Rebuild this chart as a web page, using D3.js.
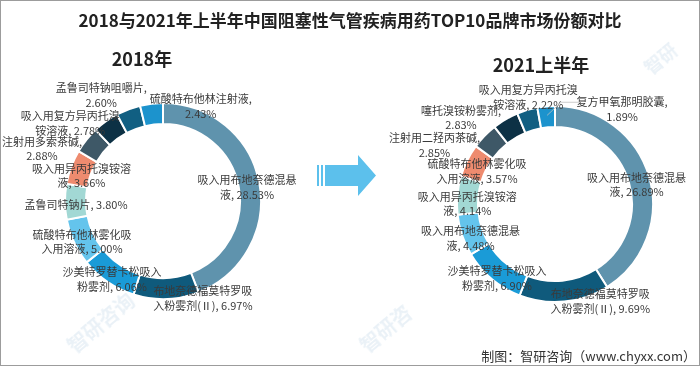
<!DOCTYPE html>
<html><head><meta charset="utf-8">
<script src="https://cdn.jsdelivr.net/npm/d3@7/dist/d3.min.js"></script>
<style>
html,body{margin:0;padding:0;background:#fff;}
svg{display:block;font-family:"Noto Sans CJK SC","Noto Sans",sans-serif;}
</style></head>
<body>
<svg id="chart" width="700" height="366"></svg>
<script>
// ---------- data ----------
const title = "2018与2021年上半年中国阻塞性气管疾病用药TOP10品牌市场份额对比";
const source = "制图：智研咨询（www.chyxx.com）";
const panelTitles = ["2018年", "2021上半年"];

const categories2018 = ["吸入用布地奈德混悬液","布地奈德福莫特罗吸入粉雾剂(Ⅱ)","沙美特罗替卡松吸入粉雾剂","硫酸特布他林雾化吸入用溶液","孟鲁司特钠片","吸入用异丙托溴铵溶液","注射用多索茶碱","吸入用复方异丙托溴铵溶液","孟鲁司特钠咀嚼片","硫酸特布他林注射液"];
const values2018 = [28.53, 6.97, 6.06, 5.00, 3.80, 3.66, 2.88, 2.78, 2.60, 2.43];

const categories2021 = ["吸入用布地奈德混悬液","布地奈德福莫特罗吸入粉雾剂(Ⅱ)","沙美特罗替卡松吸入粉雾剂","吸入用布地奈德混悬液","吸入用异丙托溴铵溶液","硫酸特布他林雾化吸入用溶液","注射用二羟丙茶碱","噻托溴铵粉雾剂","吸入用复方异丙托溴铵溶液","复方甲氧那明胶囊"];
const values2021 = [26.89, 9.69, 6.90, 4.48, 4.14, 3.57, 2.85, 2.83, 2.22, 1.89];

const colors = ["#5f93ad","#0f5a7c","#1a9bd7","#64c4ec","#a2d8d4","#ee8b6f","#3e5867","#0d3145","#115f82","#1c93cd"];

// label placement tweaks (layout only)
const labelNudge2018 = [[-1.5,1.5],[37,9.5],[-2,5.5],[-2,3.5],[0,2.5],[0,4],[-53,1],[-42,-8],[-31,-25],[48,-9]];
const labelNudge2021 = [[-2,4],[37,10],[-2,7],[-2,6],[-1,7],[0,5],[-58,1],[-50,-12],[-2,-24],[75,-9]];

// ---------- drawing ----------
const svg = d3.select("#chart");
const W = 700, H = 366;

// faint watermarks in empty areas
const wm = svg.append("g").attr("fill","#c3d8e8").attr("opacity",0.35)
  .style("font-weight","bold");
[[100,322,"智研咨询",20],[385,328,"智研咨",20],[660,58,"智研",18]].forEach(([x,y,t,s])=>{
  wm.append("text").attr("transform",`translate(${x},${y}) rotate(-40)`)
    .attr("text-anchor","middle").attr("dominant-baseline","central").attr("font-size",s).text(t);
});

// frame
svg.append("rect").attr("x",0.5).attr("y",0.5).attr("width",W-1).attr("height",H-1)
  .attr("fill","none").attr("stroke","#9c9c9c").attr("stroke-width",1);

// title
svg.append("text").attr("x",350).attr("y",19).attr("text-anchor","middle")
  .attr("dominant-baseline","central").attr("font-size",17).attr("font-weight","bold")
  .attr("fill","#222").text(title);

// source
svg.append("text").attr("x",696).attr("y",355).attr("text-anchor","end")
  .attr("dominant-baseline","central").attr("font-size",13).attr("fill","#333").text(source);

// arrow (decoration)
const arrow = svg.append("g").attr("fill","#5cc0ec");
arrow.append("rect").attr("x",317).attr("y",165).attr("width",2).attr("height",21);
arrow.append("rect").attr("x",321).attr("y",165).attr("width",2).attr("height",21);
arrow.append("path").attr("d","M325,165 H358 V155 L376,175.5 L358,196 V186 H325 Z");

const pie = d3.pie().sort(null).value(d=>d.v);

function wrapLines(textSel, str, maxW){
  const tokens = str.match(/[\u4e00-\u9fff]|[^\u4e00-\u9fff\s]+|\s+/g);
  const lines = [];
  let cur = "";
  const probe = textSel.append("tspan");
  for(const tk of tokens){
    const trial = cur + tk;
    probe.text(trial.trim());
    if(probe.node().getComputedTextLength() > maxW && cur.trim().length){
      lines.push(cur.trim());
      cur = tk.trim().length ? tk : "";
    } else cur = trial;
  }
  if(cur.trim().length) lines.push(cur.trim());
  probe.remove();
  return lines;
}

function donut(cx, cy, cats, vals, nudges, panelTitle, titleX, titleY, leaderIdx){
  const rOut = 98, rIn = 77, rLab = 87;
  const data = cats.map((c,i)=>({c, v: vals[i], i}));
  const arcs = pie(data);
  const arc = d3.arc().innerRadius(rIn).outerRadius(rOut);
  const labArc = d3.arc().innerRadius(rLab).outerRadius(rLab);
  const g = svg.append("g").attr("transform",`translate(${cx},${cy})`);
  g.selectAll("path.slice").data(arcs).join("path").attr("class","slice")
    .attr("d",arc).attr("fill",d=>colors[d.data.i])
    .attr("stroke","#fff").attr("stroke-width",2).attr("stroke-linejoin","miter");

  svg.append("text").attr("x",titleX).attr("y",titleY).attr("text-anchor","middle")
    .attr("dominant-baseline","central").attr("font-size",18).attr("font-weight","bold")
    .attr("fill","#222").text(panelTitle);

  const lg = g.append("g").attr("font-size",11).attr("fill","#3a3a3a");
  arcs.forEach(a=>{
    const [x,y] = labArc.centroid(a);
    const [nx,ny] = nudges[a.data.i];
    const t = lg.append("text").attr("text-anchor","middle");
    const str = a.data.c + ", " + a.data.v.toFixed(2) + "%";
    const lines = wrapLines(t, str, 105);
    const lh = 14.5;
    const y0 = y + ny - (lines.length-1)*lh/2;
    lines.forEach((ln,k)=>{
      t.append("tspan").attr("x",x+nx).attr("y",y0+k*lh)
        .attr("dominant-baseline","central").text(ln);
    });
    if(a.data.i === leaderIdx){
      const w = t.node().getBBox();
      const [px,py] = labArc.centroid(a);
      g.append("polyline")
        .attr("points",`${px},${py-2} ${px+14},${w.y+w.height*0.3} ${w.x+4},${w.y+w.height*0.3}`)
        .attr("fill","none").attr("stroke","#bfbfbf").attr("stroke-width",0.8);
    }
  });
}

donut(163, 201, categories2018, values2018, labelNudge2018, panelTitles[0], 142, 58, -1);
donut(555, 204, categories2021, values2021, labelNudge2021, panelTitles[1], 541, 64, 9);
</script>
</body></html>
